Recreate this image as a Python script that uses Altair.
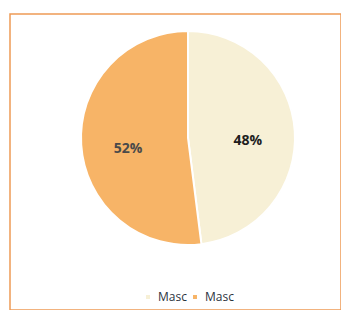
import altair as alt
import pandas as pd

categories = ["Masc", "Masc "]
values = [48, 52]
labels = ["48%", "52%"]
colors = ["#F7F0D6", "#F7B467"]
text_colors = ["#1e1e1e", "#4a4a4a"]

df = pd.DataFrame({"cat": categories, "value": values, "label": labels,
                   "ord": list(range(len(categories))), "tcol": text_colors})

base = alt.Chart(df).encode(
    theta=alt.Theta("value:Q", stack=True),
    order=alt.Order("ord:Q"),
)

pie = base.mark_arc(stroke="white", strokeWidth=2).encode(
    color=alt.Color("cat:N",
                    scale=alt.Scale(domain=categories, range=colors),
                    legend=alt.Legend(title=None, orient="none", direction="horizontal",
                                      legendX=132, legendY=277, symbolType="square",
                                      symbolSize=30, labelFontSize=12, labelFont="Open Sans",
                                      labelColor="#2b3440", columnPadding=2,
                                      symbolOffset=0, labelOffset=4)),
    x=alt.value(178), y=alt.value(124), radius=alt.value(107),
)

text = base.mark_text(fontSize=14, fontWeight="bold", font="Open Sans").encode(
    text="label:N",
    color=alt.Color("tcol:N", scale=None),
    x=alt.value(178), y=alt.value(131), radius=alt.value(60),
)

chart = (pie + text).properties(
    width=331, height=296,
    padding={"left": 2, "top": 6, "right": 0, "bottom": 0},
    background="white",
).configure_view(stroke="#EE9A55", strokeWidth=1.5)

chart.save("out.html", embed_options={"renderer": "svg", "actions": False})
